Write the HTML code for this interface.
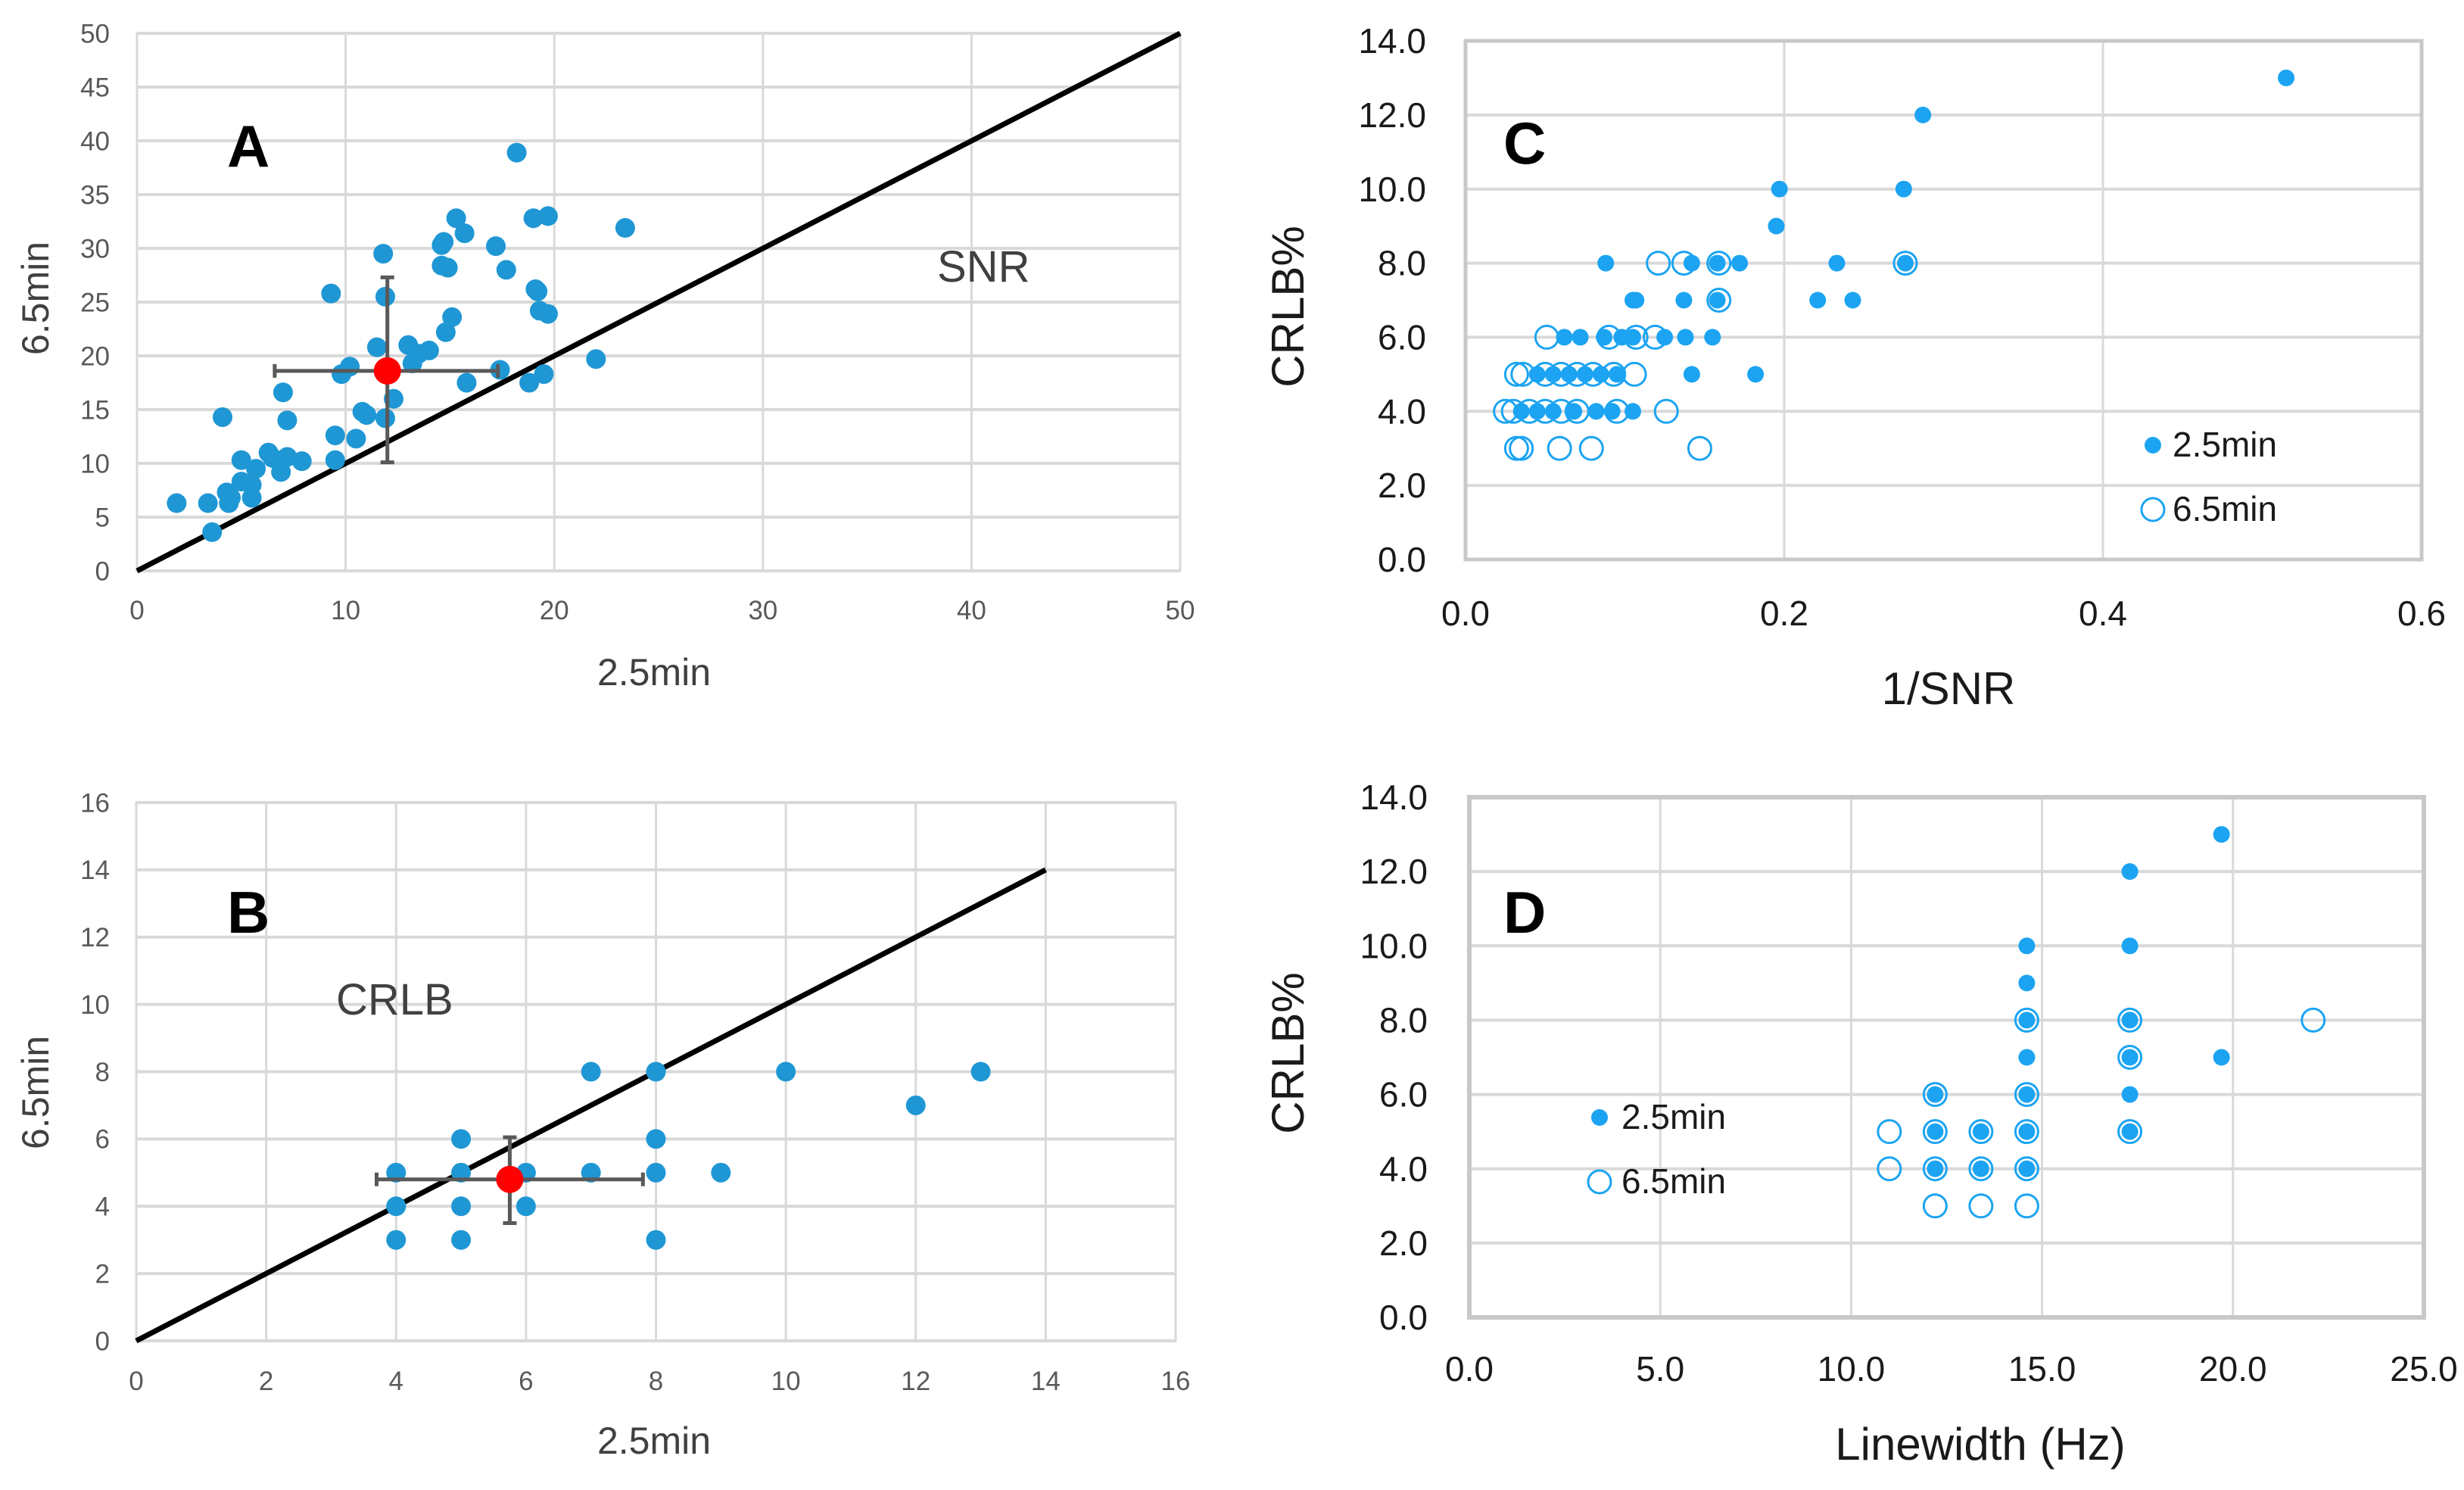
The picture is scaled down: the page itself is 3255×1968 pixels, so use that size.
<!DOCTYPE html>
<html><head><meta charset="utf-8">
<style>
html,body{margin:0;padding:0;background:#fff;}
svg{display:block;font-family:"Liberation Sans",sans-serif;}
</style></head>
<body>
<svg id="fig" width="3255" height="1968" viewBox="0 0 3255 1968" xmlns="http://www.w3.org/2000/svg"></svg>
<script>
// Panel A data (SNR)
const aX = [1.9,3.4,3.6,4.1,4.3,4.4,4.5,5.0,5.0,5.5,5.5,5.7,6.3,6.5,6.9,7.0,7.2,7.2,7.9,9.3,9.5,9.5,9.8,10.2,10.5,10.8,11.0,11.5,11.8,11.9,11.9,12.3,13.0,13.2,13.5,14.0,14.6,14.7,14.6,14.9,14.8,15.1,15.3,15.7,15.8,17.2,17.4,17.7,18.2,18.8,19.0,19.1,19.2,19.3,19.5,19.7,19.7,22.0,23.4];
const aY = [6.3,6.3,3.6,14.3,7.3,6.3,6.8,10.3,8.3,8.0,6.8,9.5,11.0,10.5,9.2,16.6,10.6,14.0,10.2,25.8,12.6,10.3,18.3,19.0,12.3,14.8,14.5,20.8,29.5,25.5,14.2,16.0,21.0,19.3,20.2,20.5,30.3,30.6,28.4,28.2,22.2,23.6,32.8,31.4,17.5,30.2,18.7,28.0,38.9,17.5,32.8,26.2,26.0,24.2,18.3,33.0,23.9,19.7,31.9];
const aMean = [12.0,18.6];
const aErrX = [6.6,17.3];
const aErrY = [10.1,27.3];
const aTicks = [0,10,20,30,40,50];
const aYTicks = [0,5,10,15,20,25,30,35,40,45,50];
// Panel B data (CRLB)
const bX = [4,4,4,5,5,5,5,6,6,7,7,8,8,8,8,9,10,12,13];
const bY = [5,4,3,6,5,4,3,5,4,8,5,8,6,5,3,5,8,7,8];
const bMean = [5.75,4.8];
const bErrX = [3.7,7.8];
const bErrY = [3.5,6.05];
const bTicks = [0,2,4,6,8,10,12,14,16];
// Panel C data
const c25X = [0.515,0.287,0.197,0.275,0.195,0.088,0.142,0.158,0.172,0.233,0.276,0.105,0.107,0.137,0.158,0.221,0.243,0.062,0.072,0.087,0.098,0.105,0.125,0.138,0.155,0.045,0.055,0.065,0.075,0.085,0.095,0.142,0.182,0.035,0.045,0.055,0.068,0.082,0.092,0.105];
const c25Y = [13,12,10,10,9,8,8,8,8,8,8,7,7,7,7,7,7,6,6,6,6,6,6,6,6,5,5,5,5,5,5,5,5,4,4,4,4,4,4,4];
const c65X = [0.121,0.137,0.159,0.276,0.159,0.051,0.09,0.107,0.119,0.032,0.036,0.05,0.06,0.07,0.08,0.093,0.106,0.025,0.03,0.04,0.05,0.06,0.07,0.095,0.126,0.032,0.035,0.059,0.079,0.147];
const c65Y = [8,8,8,8,7,6,6,6,6,5,5,5,5,5,5,5,5,4,4,4,4,4,4,4,4,3,3,3,3,3];
const cXTicks = [0.0,0.2,0.4,0.6];
const crlbTicks = [0,2,4,6,8,10,12,14];
// Panel D data
const d25X = [19.7,17.3,14.6,17.3,14.6,14.6,17.3,14.6,17.3,19.7,12.2,14.6,17.3,12.2,13.4,14.6,17.3,12.2,13.4,14.6];
const d25Y = [13,12,10,10,9,8,8,7,7,7,6,6,6,5,5,5,5,4,4,4];
const d65X = [22.1,14.6,17.3,17.3,12.2,14.6,11.0,12.2,13.4,14.6,17.3,11.0,12.2,13.4,14.6,12.2,13.4,14.6];
const d65Y = [8,8,8,7,6,6,5,5,5,5,5,4,4,4,4,3,3,3];
const dXTicks = [0,5,10,15,20,25];

const NS="http://www.w3.org/2000/svg";
const svg=document.getElementById('fig');
function el(tag,attrs,parent,text){const e=document.createElementNS(NS,tag);for(const k in attrs)e.setAttribute(k,attrs[k]);if(text!==undefined)e.textContent=text;(parent||svg).appendChild(e);return e;}
function axis(x0,x1,v0,v1){return v=>x0+(v-v0)/(v1-v0)*(x1-x0);}

function panel(cfg){
  const g=el('g',{});
  
  
  const sx=axis(cfg.px0,cfg.px1,cfg.xmin,cfg.xmax), sy=axis(cfg.py0,cfg.py1,cfg.ymin,cfg.ymax);
  cfg.xTicks.forEach(t=>{
    const l=el('line',{x1:sx(t),x2:sx(t),y1:cfg.py1,y2:cfg.py0,stroke:'#d9d9d9','stroke-width':3},g);
    
    const tx=el('text',{x:sx(t),y:cfg.xLabY,'text-anchor':'middle','font-size':cfg.tickSize,fill:cfg.tickColor},g,t.toFixed(cfg.xDec));
    
  });
  cfg.yTicks.forEach(t=>{
    const l=el('line',{x1:cfg.px0,x2:cfg.px1,y1:sy(t),y2:sy(t),stroke:'#d9d9d9','stroke-width':4},g);
    
    const tx=el('text',{x:cfg.yLabX,y:sy(t)+cfg.tickSize*0.35,'text-anchor':'end','font-size':cfg.tickSize,fill:cfg.tickColor},g,t.toFixed(cfg.yDec));
    
  });
  const box=el('rect',{x:cfg.px0,y:cfg.py1,width:cfg.px1-cfg.px0,height:cfg.py0-cfg.py1,fill:'none',stroke:cfg.boxColor,'stroke-width':cfg.boxW},g);
  
  return {g,sx,sy};
}

function filled(p,xs,ys,r,color,name){
  xs.forEach((x,i)=>{
    const c=el('circle',{cx:p.sx(x),cy:p.sy(ys[i]),r:r,fill:color},p.g);
    
    
  });
}
function hollow(p,xs,ys,r,color,name){
  xs.forEach((x,i)=>{
    const c=el('circle',{cx:p.sx(x),cy:p.sy(ys[i]),r:r,fill:'none',stroke:color,'stroke-width':3},p.g);
    
    
  });
}
function meanErr(p,m,ex,ey){
  const st={stroke:'#595959','stroke-width':5};
  const h=el('line',Object.assign({x1:p.sx(ex[0]),x2:p.sx(ex[1]),y1:p.sy(m[1]),y2:p.sy(m[1])},st),p.g);
  
  [ex[0],ex[1]].forEach(v=>{el('line',Object.assign({x1:p.sx(v),x2:p.sx(v),y1:p.sy(m[1])-9,y2:p.sy(m[1])+9},st),p.g);});
  const v=el('line',Object.assign({x1:p.sx(m[0]),x2:p.sx(m[0]),y1:p.sy(ey[0]),y2:p.sy(ey[1])},st),p.g);
  
  [ey[0],ey[1]].forEach(w=>{el('line',Object.assign({x1:p.sx(m[0])-9,x2:p.sx(m[0])+9,y1:p.sy(w),y2:p.sy(w)},st),p.g);});
  const c=el('circle',{cx:p.sx(m[0]),cy:p.sy(m[1]),r:18,fill:'#ff0000'},p.g);
  
}
function txt(x,y,s,size,attrs,name){
  const t=el('text',Object.assign({x:x,y:y,'font-size':size},attrs||{}),svg,s);
  return t;
}

// Panel A
const pA=panel({name:'panel-a',px0:181,px1:1559,py0:754,py1:44,xmin:0,xmax:50,ymin:0,ymax:50,xTicks:aTicks,yTicks:aYTicks,xDec:0,yDec:0,tickSize:35,tickColor:'#595959',xLabY:818,yLabX:145,boxColor:'#d9d9d9',boxW:3});
const iA=el('line',{x1:pA.sx(0),y1:pA.sy(0),x2:pA.sx(50),y2:pA.sy(50),stroke:'#000','stroke-width':7},pA.g);

filled(pA,aX,aY,13,'#1f97d4','data-point');
meanErr(pA,aMean,aErrX,aErrY);
txt(300,220,'A',78,{'font-weight':'bold'},'panel-label-a');
txt(1238,372,'SNR',58,{fill:'#404040'},'snr-annotation');
txt(864,905,'2.5min',50,{'text-anchor':'middle',fill:'#404040'},'x-axis-title-a');
txt(64,394,'6.5min',50,{'text-anchor':'middle',fill:'#404040',transform:'rotate(-90 64 394)'},'y-axis-title-a');

// Panel B
const pB=panel({name:'panel-b',px0:180,px1:1553,py0:1771,py1:1060,xmin:0,xmax:16,ymin:0,ymax:16,xTicks:bTicks,yTicks:bTicks,xDec:0,yDec:0,tickSize:35,tickColor:'#595959',xLabY:1836,yLabX:145,boxColor:'#d9d9d9',boxW:3});
const iB=el('line',{x1:pB.sx(0),y1:pB.sy(0),x2:pB.sx(14),y2:pB.sy(14),stroke:'#000','stroke-width':7},pB.g);

filled(pB,bX,bY,13,'#1f97d4','data-point');
meanErr(pB,bMean,bErrX,bErrY);
txt(300,1232,'B',78,{'font-weight':'bold'},'panel-label-b');
txt(444,1340,'CRLB',58,{fill:'#404040'},'crlb-annotation');
txt(864,1920,'2.5min',50,{'text-anchor':'middle',fill:'#404040'},'x-axis-title-b');
txt(64,1443,'6.5min',50,{'text-anchor':'middle',fill:'#404040',transform:'rotate(-90 64 1443)'},'y-axis-title-b');

// Panel C
const pC=panel({name:'panel-c',px0:1936,px1:3199,py0:739,py1:54,xmin:0,xmax:0.6,ymin:0,ymax:14,xTicks:cXTicks,yTicks:crlbTicks,xDec:1,yDec:1,tickSize:46,tickColor:'#1a1a1a',xLabY:826,yLabX:1884,boxColor:'#c8c8c8',boxW:5});
filled(pC,c25X,c25Y,11,'#1ca4f2','point-2-5min');
hollow(pC,c65X,c65Y,15,'#1ca4f2','point-6-5min');
txt(1986,216,'C',78,{'font-weight':'bold'},'panel-label-c');
const lc1=el('circle',{cx:2844,cy:588,r:11,fill:'#1ca4f2'});
txt(2870,603,'2.5min',46,{fill:'#1a1a1a'},'legend-label-2-5min');
const lc2=el('circle',{cx:2844,cy:673,r:15,fill:'none',stroke:'#1ca4f2','stroke-width':3});
txt(2870,688,'6.5min',46,{fill:'#1a1a1a'},'legend-label-6-5min');
txt(2574,930,'1/SNR',60,{'text-anchor':'middle',fill:'#1a1a1a'},'x-axis-title-c');
txt(1722,405,'CRLB%',60,{'text-anchor':'middle',fill:'#1a1a1a',transform:'rotate(-90 1722 405)'},'y-axis-title-c');

// Panel D
const pD=panel({name:'panel-d',px0:1941,px1:3202,py0:1740,py1:1053,xmin:0,xmax:25,ymin:0,ymax:14,xTicks:dXTicks,yTicks:crlbTicks,xDec:1,yDec:1,tickSize:46,tickColor:'#1a1a1a',xLabY:1824,yLabX:1886,boxColor:'#c8c8c8',boxW:6});
filled(pD,d25X,d25Y,11,'#1ca4f2','point-2-5min');
hollow(pD,d65X,d65Y,15,'#1ca4f2','point-6-5min');
txt(1986,1232,'D',78,{'font-weight':'bold'},'panel-label-d');
const ld1=el('circle',{cx:2113,cy:1476,r:11,fill:'#1ca4f2'});
txt(2142,1491,'2.5min',46,{fill:'#1a1a1a'},'legend-label-2-5min');
const ld2=el('circle',{cx:2113,cy:1561,r:15,fill:'none',stroke:'#1ca4f2','stroke-width':3});
txt(2142,1576,'6.5min',46,{fill:'#1a1a1a'},'legend-label-6-5min');
txt(2616,1928,'Linewidth (Hz)',60,{'text-anchor':'middle',fill:'#1a1a1a'},'x-axis-title-d');
txt(1722,1391,'CRLB%',60,{'text-anchor':'middle',fill:'#1a1a1a',transform:'rotate(-90 1722 1391)'},'y-axis-title-d');
</script>
</body></html>
